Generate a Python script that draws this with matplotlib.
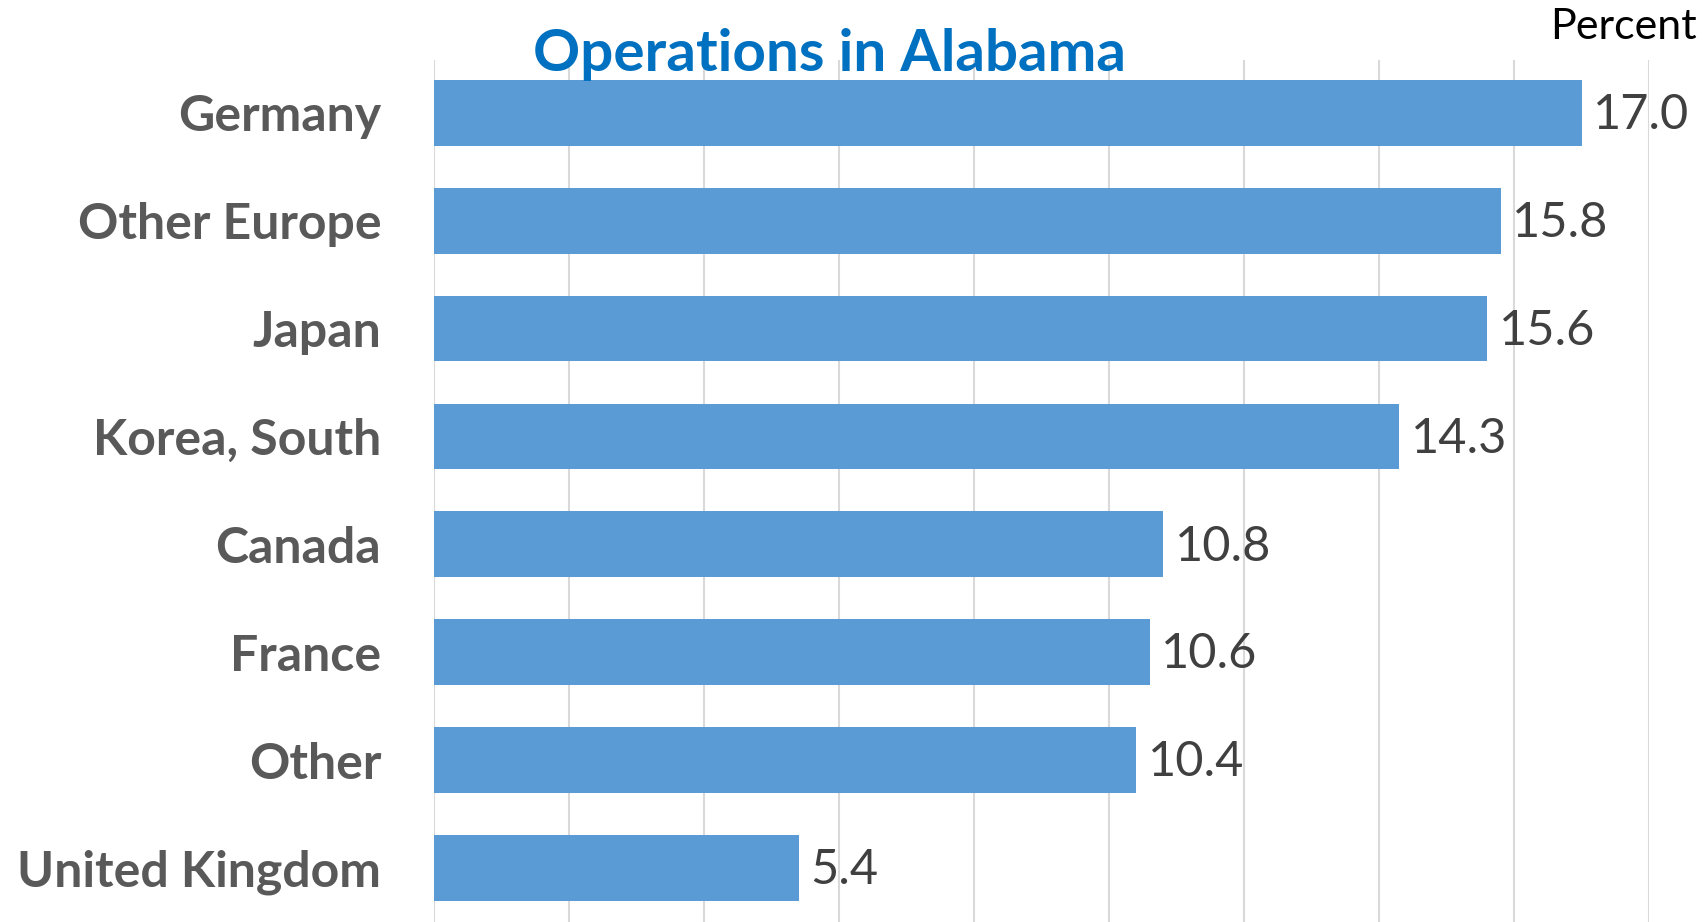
import matplotlib.pyplot as plt

# 数据
countries = ['Germany', 'Other Europe', 'Japan', 'Korea, South', 'Canada',
             'France', 'Other', 'United Kingdom']
shares = [17.0, 15.8, 15.6, 14.3, 10.8, 10.6, 10.4, 5.4]
x_ticks = list(range(0, 19, 2))

plt.rcParams['font.family'] = ['Lato', 'DejaVu Sans']

fig = plt.figure(figsize=(17.06, 9.22), dpi=100)
ax = fig.add_axes([0.2544, 0.0, 0.7123, 0.935])

ypos = list(range(len(countries)))
bars = ax.barh(ypos, shares, height=0.61, color='#5B9BD5', zorder=3)

# 数值标签
for y, v in zip(ypos, shares):
    ax.text(v + 0.17, y + 0.02, f'{v:.1f}', va='center', ha='left',
            fontsize=35, color='#404040')

ax.set_yticks(ypos)
ax.set_yticklabels(countries, fontsize=36, fontweight='bold', color='#595959')
ax.tick_params(axis='y', length=0, pad=38)
ax.set_xticks(x_ticks)
ax.tick_params(axis='x', length=0, labelbottom=False)
ax.set_xlim(0, 18)
ax.set_ylim(7.5, -0.49)
ax.grid(axis='x', color='#D9D9D9', linewidth=1.5, zorder=0)
for s in ax.spines.values():
    s.set_visible(False)

fig.text(0.4865, 0.923, 'Operations in Alabama', ha='center', va='baseline',
         fontsize=42, fontweight='bold', color='#0070C0')
fig.text(0.9947, 0.958, 'Percent', ha='right', va='baseline',
         fontsize=31, color='black')

fig.savefig('out.png', dpi=100)
